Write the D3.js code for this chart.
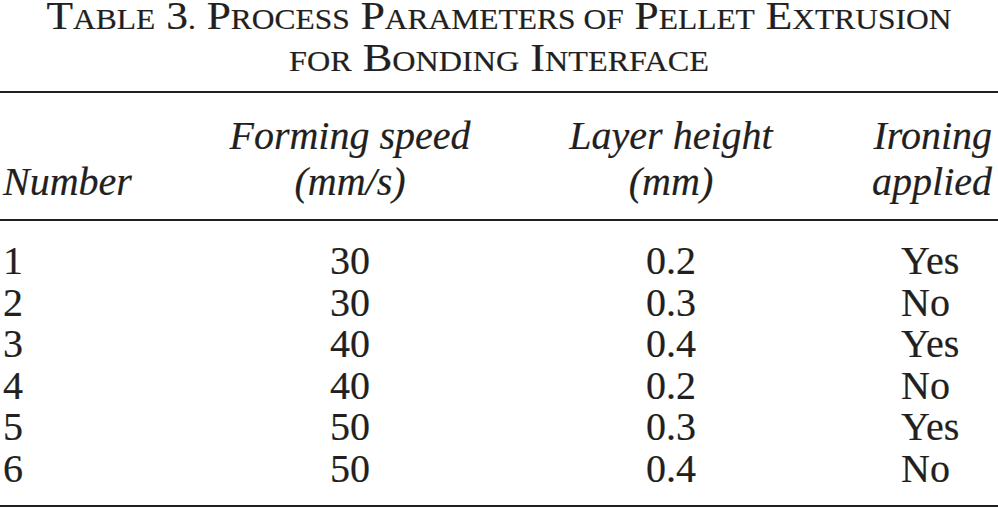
<!DOCTYPE html>
<html lang="en">
<head>
  <meta charset="UTF-8">
  <title>Table 3. Process Parameters of Pellet Extrusion</title>
  <style>
    body {
      margin: 0;
      padding: 0;
      background: #fff;
    }
    svg text {
      font-family: 'Liberation Serif', 'Times New Roman', serif;
      fill: #231f20;
      stroke: #231f20;
      stroke-width: 0.2px;
    }
  </style>
</head>
<body>

<script src="https://d3js.org/d3.v7.min.js"></script>

<script>
  // Table data
  const numbers = ['1', '2', '3', '4', '5', '6'];
  const formingSpeed = [30, 30, 40, 40, 50, 50];
  const layerHeight = [0.2, 0.3, 0.4, 0.2, 0.3, 0.4];
  const ironing = ['Yes', 'No', 'Yes', 'No', 'Yes', 'No'];

  const titleLines = [
    'Table 3. Process Parameters of Pellet Extrusion',
    'for Bonding Interface'
  ];
  const headers = [
    ['', 'Number'],
    ['Forming speed', '(mm/s)'],
    ['Layer height', '(mm)'],
    ['Ironing', 'applied']
  ];

  const width = 998, height = 509;

  const svg = d3.select('body').append('svg')
    .attr('width', width)
    .attr('height', height);

  // Title in small caps: first letter of each capitalised word big, rest smaller
  const titleWidths = [905, 420];
  const titleY = [29, 71];
  titleLines.forEach((line, i) => {
    const g = svg.append('g');
    const t = g.append('text')
      .attr('x', 0)
      .attr('y', 0)
      .attr('text-anchor', 'middle');
    line.split(' ').forEach((word, j) => {
      const prefix = j > 0 ? ' ' : '';
      const first = word[0];
      const big = first === first.toUpperCase();
      if (big) {
        t.append('tspan').style('font-size', '40px').text(prefix + first);
        t.append('tspan').style('font-size', '29px').text(word.slice(1).toUpperCase());
      } else {
        t.append('tspan').style('font-size', '29px').text(prefix + word.toUpperCase());
      }
    });
    // stretch the line to the width it takes in the reference
    const w = t.node().getComputedTextLength();
    const sx = w > 0 ? titleWidths[i] / w : 1;
    g.attr('transform', `translate(${width / 2},${titleY[i]}) scale(${sx},1)`);
  });

  // Horizontal rules
  const rules = [92, 220, 506];
  svg.selectAll('line.rule')
    .data(rules)
    .enter().append('line')
    .attr('class', 'rule')
    .attr('x1', 0)
    .attr('x2', width)
    .attr('y1', d => d)
    .attr('y2', d => d)
    .attr('stroke', '#231f20')
    .attr('stroke-width', 1.8);

  // Column layout: x position and anchor for header and body
  const cols = [
    { x: 3, anchor: 'start', bodyX: 3, bodyAnchor: 'start' },
    { x: 350, anchor: 'middle', bodyX: 350, bodyAnchor: 'middle' },
    { x: 671, anchor: 'middle', bodyX: 671, bodyAnchor: 'middle' },
    { x: 992, anchor: 'end', bodyX: 901, bodyAnchor: 'start' }
  ];

  // Header
  const headerY = [149, 195];
  headers.forEach((h, c) => {
    h.forEach((label, k) => {
      if (!label) return;
      svg.append('text')
        .attr('x', cols[c].x)
        .attr('y', headerY[k])
        .attr('text-anchor', cols[c].anchor)
        .style('font-size', '40px')
        .style('font-style', 'italic')
        .text(label);
    });
  });

  // Body rows
  const y = d3.scalePoint()
    .domain(numbers)
    .range([274, 482]);

  const rows = numbers.map((n, i) => [n, formingSpeed[i], layerHeight[i].toFixed(1), ironing[i]]);

  const rowG = svg.selectAll('g.row')
    .data(rows)
    .enter().append('g')
    .attr('class', 'row')
    .attr('transform', d => `translate(0,${y(d[0])})`);

  rowG.selectAll('text')
    .data(d => d)
    .enter().append('text')
    .attr('x', (d, c) => cols[c].bodyX)
    .attr('text-anchor', (d, c) => cols[c].bodyAnchor)
    .style('font-size', '40px')
    .text(d => d);
</script>

</body>
</html>
